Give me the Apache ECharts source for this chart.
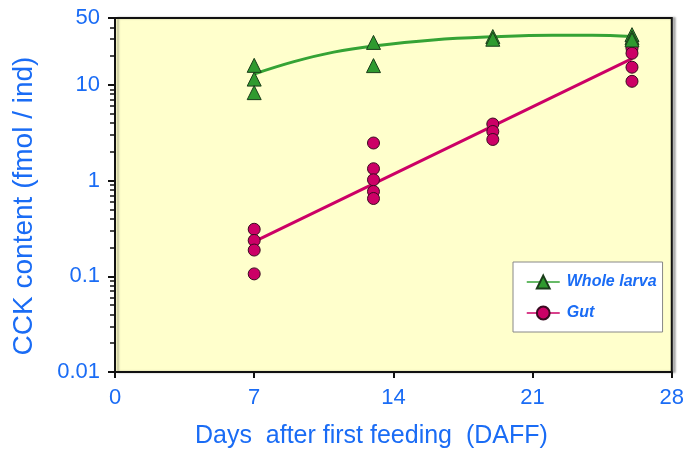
<!DOCTYPE html>
<html>
<head>
<meta charset="utf-8">
<script src="https://cdn.jsdelivr.net/npm/echarts@6/dist/echarts.min.js"></script>
<style>
  html, body { margin: 0; padding: 0; background: #fff; }
</style>
</head>
<body>
<div id="main" style="width: 687px; height: 454px"></div>
<script>
// observed values (day, fmol/ind)
var larvaPoints = [
  [7, 16], [7, 11.5], [7, 8.3],
  [13, 27.8], [13, 15.9],
  [19, 32], [19, 30],
  [26, 33.5], [26, 31], [26, 29.5]
];
var gutPoints = [
  [7, 0.31], [7, 0.237], [7, 0.188], [7, 0.106],
  [13, 2.47], [13, 1.33], [13, 1.02], [13, 0.77], [13, 0.65],
  [19, 3.9], [19, 3.26], [19, 2.69],
  [26, 27], [26, 24.1], [26, 21.4], [26, 15.3], [26, 10.9]
];
// fitted curves
var larvaFitDays = [7, 9, 11, 13, 16, 19, 22, 24, 26];
var larvaFitValues = [13, 17.5, 22, 25.5, 29.5, 31.8, 33, 33, 32];
var gutFitDays = [7, 26];
var gutFitValues = [0.23, 18.8];

var yLabels = [0.01, 0.1, 1, 10, 50];
var yMinorTicks = [0.02, 0.03, 0.04, 0.05, 0.06, 0.07, 0.08, 0.09,
  0.2, 0.3, 0.4, 0.5, 0.6, 0.7, 0.8, 0.9,
  2, 3, 4, 5, 6, 7, 8, 9, 20, 30, 40];

var blue = "#1a6cf5";
var green = "#2f9a2f";
var pink = "#cc0066";

function zip(xs, ys) {
  return xs.map(function (x, i) { return [x, ys[i]]; });
}

var myChart = echarts.init(document.getElementById("main"));
var option = {
  backgroundColor: "#fff",
  animation: false,
  grid: {
    left: 115, right: 14, top: 18, bottom: 79,
    show: true,
    backgroundColor: "#ffffcc",
    borderColor: "#111",
    borderWidth: 2,
    shadowColor: "rgba(0,0,0,0.25)",
    shadowOffsetX: 3,
    shadowOffsetY: 0,
    shadowBlur: 2
  },
  legend: {
    orient: "vertical",
    left: 513,
    top: 262,
    padding: [12, 6, 11, 13],
    itemWidth: 33,
    itemHeight: 16,
    itemGap: 15,
    selectedMode: false,
    backgroundColor: "#fff",
    borderColor: "#888",
    borderWidth: 1,
    lineStyle: { width: 1.5 },
    textStyle: {
      color: blue,
      fontFamily: "Liberation Sans, Arial, sans-serif",
      fontSize: 16,
      fontWeight: "bold",
      fontStyle: "italic",
      padding: [0, 0, 0, 2]
    },
    data: ["Whole larva", "Gut"]
  },
  xAxis: {
    type: "value",
    min: 0, max: 28, interval: 7,
    name: "Days  after first feeding  (DAFF)",
    nameLocation: "middle",
    nameGap: 52,
    nameTextStyle: {
      color: blue,
      fontFamily: "Liberation Sans, Arial, sans-serif",
      fontSize: 25,
      padding: [0, 44, 0, 0]
    },
    axisLine: { onZero: false, lineStyle: { color: "#111", width: 2 } },
    axisTick: { show: true, inside: false, length: 6, lineStyle: { color: "#111", width: 2 } },
    axisLabel: {
      color: blue,
      fontFamily: "Liberation Sans, Arial, sans-serif",
      fontSize: 22,
      margin: 15
    },
    splitLine: { show: false }
  },
  yAxis: [
    {
      type: "log",
      logBase: 10,
      min: 0.01, max: 50,
      name: "CCK content (fmol / ind)",
      nameLocation: "middle",
      nameGap: 77,
      nameTextStyle: {
        color: blue,
        fontFamily: "Liberation Sans, Arial, sans-serif",
        fontSize: 28,
        padding: [0, 22, 0, 0]
      },
      axisLine: { show: true, lineStyle: { color: "#111", width: 2 } },
      axisTick: { show: true, length: 7, customValues: yLabels, lineStyle: { color: "#111", width: 2 } },
      axisLabel: {
        color: blue,
        fontFamily: "Liberation Sans, Arial, sans-serif",
        fontSize: 22,
        margin: 15,
        customValues: yLabels,
        formatter: function (v) { return String(+v.toPrecision(6)); }
      },
      splitLine: { show: false }
    },
    {
      // same scale, only carries the minor ticks
      type: "log",
      logBase: 10,
      min: 0.01, max: 50,
      position: "left",
      axisLine: { show: false },
      axisTick: { show: true, length: 5, customValues: yMinorTicks, lineStyle: { color: "#111", width: 1.5 } },
      axisLabel: { show: false },
      splitLine: { show: false }
    }
  ],
  series: [
    {
      name: "Whole larva",
      type: "line",
      smooth: 0.4,
      data: zip(larvaFitDays, larvaFitValues),
      symbol: "triangle",
      showSymbol: false,
      lineStyle: { color: "#35a335", width: 3 },
      itemStyle: { color: green, borderColor: "#1a3d1a", borderWidth: 1 },
      z: 2
    },
    {
      name: "Gut",
      type: "line",
      yAxisIndex: 1,
      data: zip(gutFitDays, gutFitValues),
      symbol: "circle",
      showSymbol: false,
      lineStyle: { color: pink, width: 3 },
      itemStyle: { color: pink, borderColor: "#3a0a20", borderWidth: 1 },
      z: 2
    },
    {
      name: "Gut",
      type: "scatter",
      data: gutPoints,
      symbol: "circle",
      symbolSize: 12,
      itemStyle: { color: pink, borderColor: "#3a0a20", borderWidth: 1, opacity: 1 },
      z: 3
    },
    {
      name: "Whole larva",
      type: "scatter",
      data: larvaPoints,
      symbol: "triangle",
      symbolSize: 14,
      itemStyle: { color: green, borderColor: "#1a3d1a", borderWidth: 1, opacity: 1 },
      z: 4
    }
  ]
};
myChart.setOption(option);
</script>
</body>
</html>
